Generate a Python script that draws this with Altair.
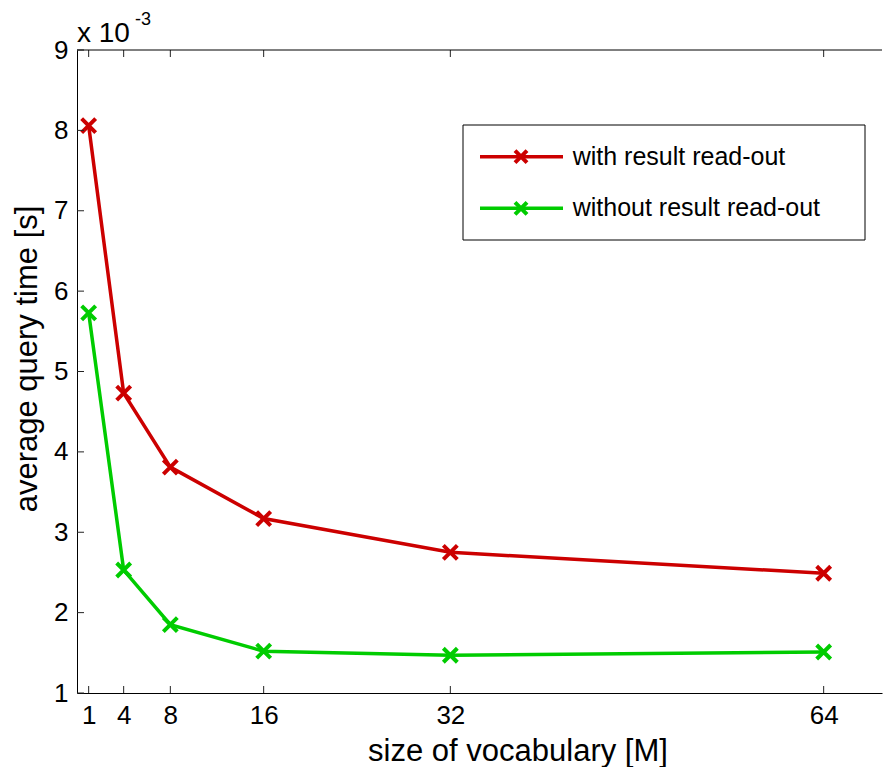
import altair as alt
import pandas as pd

# Vocabulary sizes (millions of words) and measured query times (x 10^-3 s)
sizes = [1, 4, 8, 16, 32, 64]
with_readout = [8.06, 4.73, 3.81, 3.17, 2.75, 2.49]
without_readout = [5.73, 2.53, 1.85, 1.52, 1.47, 1.51]

series_names = ["with result read-out", "without result read-out"]
series_colors = ["#cc0000", "#00cc00"]

x_ticks = [1, 4, 8, 16, 32, 64]
y_ticks = [1, 2, 3, 4, 5, 6, 7, 8, 9]

W, H = 805, 643
FONT = "Liberation Sans"
CROSS = "M-1,-1L1,1M-1,1L1,-1"

df = pd.DataFrame({
    "size": sizes * 2,
    "time": with_readout + without_readout,
    "series": [series_names[0]] * len(sizes) + [series_names[1]] * len(sizes),
})

x_scale = alt.Scale(domain=[0, 69], nice=False, zero=False)
y_scale = alt.Scale(domain=[1, 9], nice=False, zero=False)
color_scale = alt.Scale(domain=series_names, range=series_colors)

x_axis = alt.Axis(
    values=x_ticks, tickSize=0, grid=False, labelFlush=False, labelOverlap=False,
    labelFontSize=26, labelPadding=9, labelColor="black",
    domainColor="black", domainWidth=1,
    title="size of vocabulary [M]", titleFontSize=31, titleFontWeight="normal",
    titleColor="black", titleX=440.5, titleY=67, titleAlign="center",
    titleBaseline="alphabetic",
)
y_axis = alt.Axis(
    values=y_ticks, format="d", tickSize=0, grid=False, labelFlush=False,
    labelOverlap=False, labelFontSize=26, labelPadding=9, labelColor="black",
    domainColor="black", domainWidth=1,
    title="average query time [s]", titleFontSize=31, titleFontWeight="normal",
    titleColor="black", titleX=-40.5, titleY=308.5, titleAngle=270,
    titleAlign="center", titleBaseline="alphabetic",
)

xs = alt.X("size:Q", scale=x_scale, axis=x_axis)
ys = alt.Y("time:Q", scale=y_scale, axis=y_axis)

base = alt.Chart(df).encode(
    x=xs, y=ys,
    color=alt.Color("series:N", scale=color_scale, legend=None),
)
lines = base.mark_line(strokeWidth=3.5)
markers = base.mark_point(shape=CROSS, size=196, filled=False, strokeWidth=4, opacity=1)

# Inward-pointing tick marks on the frame
xt = alt.Chart(pd.DataFrame({"size": x_ticks}))
yt = alt.Chart(pd.DataFrame({"time": y_ticks}))
tick_style = dict(color="#222222", strokeWidth=1)
bottom_ticks = xt.mark_rule(**tick_style).encode(x=xs, y=alt.value(H), y2=alt.value(H - 7))
top_ticks = xt.mark_rule(**tick_style).encode(x=xs, y=alt.value(0), y2=alt.value(7))
left_ticks = yt.mark_rule(**tick_style).encode(y=ys, x=alt.value(0), x2=alt.value(7))

one = alt.Chart(pd.DataFrame({"k": [0]}))
top_frame = one.mark_rule(color="black", strokeWidth=1).encode(
    x=alt.value(0), x2=alt.value(W), y=alt.value(0)
)

# Exponent annotation for the y axis
exp_base = one.mark_text(text="x 10", font=FONT, fontSize=28, align="left",
                         baseline="alphabetic", color="black").encode(
    x=alt.value(0), y=alt.value(-8))
exp_power = one.mark_text(text="-3", font=FONT, fontSize=18, align="left",
                          baseline="alphabetic", color="black").encode(
    x=alt.value(58), y=alt.value(-25))

# Legend box with line + cross samples
legend_layers = [
    one.mark_rect(fill="white", stroke="black", strokeWidth=1).encode(
        x=alt.value(386), x2=alt.value(788), y=alt.value(75), y2=alt.value(190))
]
for name, col, ry in zip(series_names, series_colors, [106.7, 158.3]):
    legend_layers.append(one.mark_rule(color=col, strokeWidth=3.5).encode(
        x=alt.value(403), x2=alt.value(486), y=alt.value(ry)))
    legend_layers.append(one.mark_point(shape=CROSS, size=144, filled=False,
                                        strokeWidth=4, color=col, opacity=1).encode(
        x=alt.value(444), y=alt.value(ry)))
    legend_layers.append(one.mark_text(text=name, font=FONT, fontSize=25, align="left",
                                       baseline="middle", color="black").encode(
        x=alt.value(495.7), y=alt.value(ry)))

chart = alt.layer(
    lines, markers, bottom_ticks, top_ticks, left_ticks, top_frame,
    exp_base, exp_power, *legend_layers,
).properties(
    width=W, height=H,
    autosize=alt.AutoSizeParams(type="none"),
    padding={"left": 77, "top": 50, "right": 3, "bottom": 74},
    background="white",
).configure(font=FONT).configure_view(stroke=None)

chart.save("out.html", embed_options={"renderer": "svg", "actions": False})
